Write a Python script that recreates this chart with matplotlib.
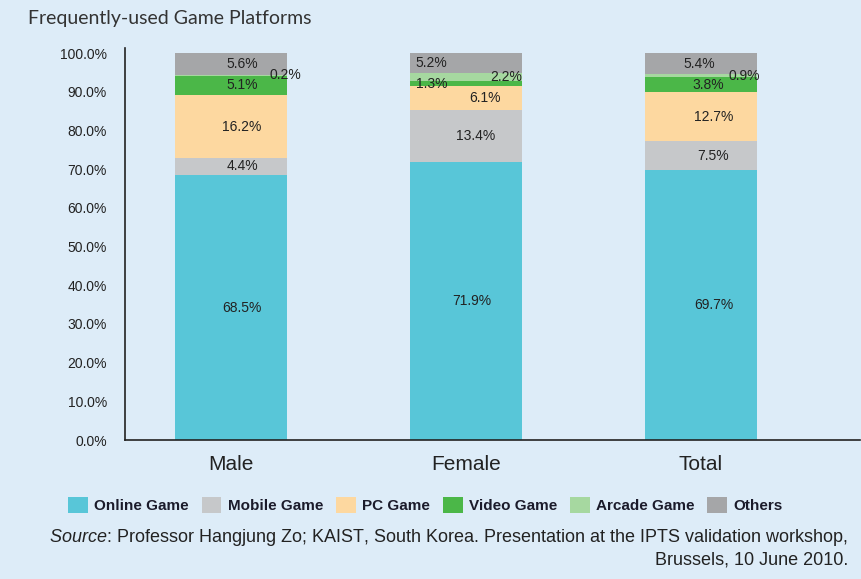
import matplotlib
matplotlib.use('Agg')
import numpy as np
from matplotlib import pyplot as plt
from matplotlib.patches import Patch

groups = ['Male', 'Female', 'Total']
series = ['Online Game', 'Mobile Game', 'PC Game', 'Video Game', 'Arcade Game', 'Others']
online = [68.5, 71.9, 69.7]
mobile = [4.4, 13.4, 7.5]
pc = [16.2, 6.1, 12.7]
video = [5.1, 1.3, 3.8]
arcade = [0.2, 2.2, 0.9]
others = [5.6, 5.2, 5.4]

colors = ['#58c6d8', '#c6c8ca', '#fdd8a0', '#4bb748', '#a6d8a0', '#a5a6a8']
# horizontal nudge of each value label (points), per series, per group
label_dx = [[8, 4, 9], [8, 7, 9], [8, 14, 9], [8, -25, 5], [39, 29, 31], [8, -25, -1]]

bg = '#ddecf8'
plt.rcParams['font.family'] = ['Liberation Sans', 'DejaVu Sans']
plt.rcParams['mathtext.fontset'] = 'custom'
plt.rcParams['mathtext.rm'] = 'Liberation Sans'
plt.rcParams['mathtext.it'] = 'Liberation Sans:italic'

fig = plt.figure(figsize=(8.61, 5.79), dpi=100, facecolor=bg)
ax = fig.add_axes([0.1452, 0.24, 0.8538, 0.677])
ax.set_facecolor(bg)

x = np.arange(len(groups))
data = [online, mobile, pc, video, arcade, others]
bottom = np.zeros(len(groups))
for vals, col, dxs in zip(data, colors, label_dx):
    ax.bar(x, vals, 0.477, bottom=bottom, color=col, edgecolor='none')
    for i, v in enumerate(vals):
        ax.annotate('%.1f%%' % v, (x[i], bottom[i] + v / 2), xytext=(dxs[i], 0),
                    textcoords='offset points', ha='center', va='center',
                    fontsize=10, color='#222222')
    bottom += np.array(vals)

ax.set_xlim(-0.451, 2.677)
ax.set_ylim(0, 101.3)
ax.set_yticks(np.arange(0, 101, 10))
ax.set_yticklabels(['%.1f%%' % t for t in np.arange(0, 101, 10)], fontsize=10, color='#222222')
ax.set_xticks(x)
ax.set_xticklabels(groups, fontsize=15, color='#222222')
ax.tick_params(axis='both', length=0)
ax.tick_params(axis='y', pad=13)
ax.tick_params(axis='x', pad=11)
for s in ['top', 'right']:
    ax.spines[s].set_visible(False)
for s in ['left', 'bottom']:
    ax.spines[s].set_color('#222222')
    ax.spines[s].set_linewidth(1.2)

fig.text(0.033, 0.968, 'Frequently-used Game Platforms', fontsize=14, color='#333333',
         family=['Lato', 'DejaVu Sans'], va='center')

handles = [Patch(facecolor=c, edgecolor='none') for c in colors]
leg = fig.legend(handles, series, loc='center', bbox_to_anchor=(0.494, 0.128), ncol=6,
                 frameon=False, handlelength=1.3, handleheight=1.2, handletextpad=0.4,
                 columnspacing=0.85, prop={'weight': 'bold', 'size': 11})
for t in leg.get_texts():
    t.set_color('#1b1b2b')

fig.text(0.985, 0.072, r'$\mathit{Source}$: Professor Hangjung Zo; KAIST, South Korea. '
         'Presentation at the IPTS validation workshop,', ha='right', va='center',
         fontsize=13, color='#222222')
fig.text(0.985, 0.033, 'Brussels, 10 June 2010.', ha='right', va='center',
         fontsize=13, color='#222222')

fig.savefig('out.png', dpi=100, facecolor=bg)
